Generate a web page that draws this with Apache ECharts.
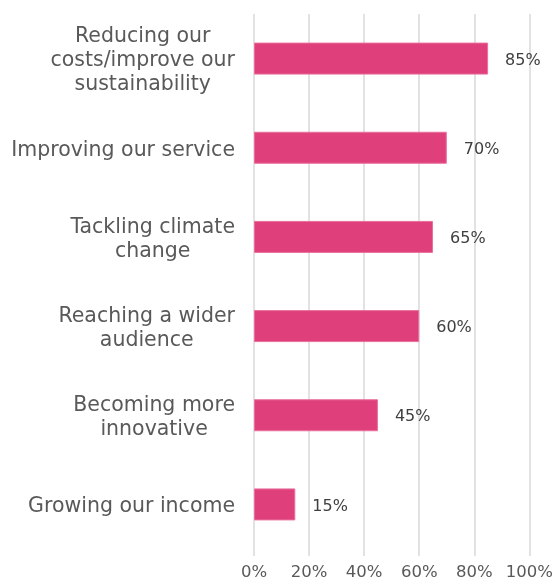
<!DOCTYPE html>
<html>
<head>
<meta charset="utf-8">
<script src="https://cdn.jsdelivr.net/npm/echarts@6/dist/echarts.min.js"></script>
<style>
html,body{margin:0;padding:0;background:#fff;}
#chart{width:556px;height:581px;}
</style>
</head>
<body>
<div id="chart"></div>
<script>
const categories = [
  "Reducing our\ncosts/improve our\nsustainability",
  "Improving our service",
  "Tackling climate\nchange",
  "Reaching a wider\naudience",
  "Becoming more\ninnovative",
  "Growing our income"
];
const values = [85, 70, 65, 60, 45, 15];
const tickValues = [0, 20, 40, 60, 80, 100];

const FONT = "DejaVu Sans";
const chart = echarts.init(document.getElementById('chart'), null, {renderer: 'canvas'});
chart.setOption({
  animation: false,
  backgroundColor: '#ffffff',
  grid: {left: 254, right: 26.5, top: 14, bottom: 30, containLabel: false},
  xAxis: {
    type: 'value',
    min: tickValues[0],
    max: tickValues[tickValues.length - 1],
    interval: 20,
    axisLine: {show: false},
    axisTick: {show: true, length: 7, lineStyle: {color: '#d9d9d9', width: 1.5}},
    splitLine: {show: true, lineStyle: {color: '#d9d9d9', width: 1.5}},
    axisLabel: {
      margin: 15,
      color: '#595959',
      fontFamily: FONT,
      fontSize: 16.5,
      formatter: v => v + '%'
    }
  },
  yAxis: {
    type: 'category',
    inverse: true,
    data: categories,
    axisLine: {show: false},
    axisTick: {show: false},
    axisLabel: {
      margin: 19,
      color: '#595959',
      fontFamily: FONT,
      fontSize: 20.5,
      lineHeight: 24,
      align: 'right',
      padding: [5, 0, 0, 0],
      formatter: v => v.split('\n').map(l => '{c|' + l + '}').join('\n'),
      rich: {
        c: {align: 'center', color: '#595959', fontFamily: FONT, fontSize: 20.5, lineHeight: 24}
      }
    }
  },
  series: [{
    type: 'bar',
    data: values,
    barWidth: 32,
    itemStyle: {color: '#DF407B', borderColor: '#EA6F9C', borderWidth: 1},
    label: {
      show: true,
      position: 'right',
      distance: 17,
      offset: [0, 2],
      color: '#404040',
      fontFamily: FONT,
      fontSize: 16,
      formatter: p => p.value + '%'
    }
  }]
});
</script>
</body>
</html>
